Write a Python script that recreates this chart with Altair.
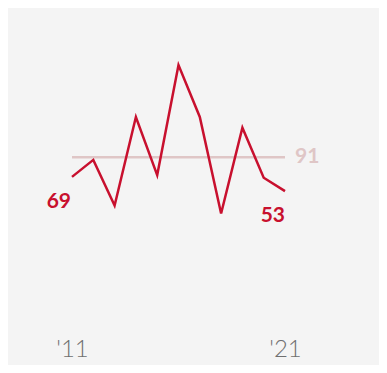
import altair as alt
import pandas as pd

years = [2011, 2012, 2013, 2014, 2015, 2016, 2017, 2018, 2019, 2020, 2021]
values = [69, 88, 37, 136, 71, 194, 136, 28, 124, 68, 53]
reference_value = 91
tick_years = [2011, 2021]

RED = "#c8102e"
PINK = "#dfc6c6"

df = pd.DataFrame({"year": years, "value": values})
ref_df = pd.DataFrame({"start": [years[0]], "end": [years[-1]], "value": [reference_value]})
first_df = pd.DataFrame({"year": [years[0]], "value": [values[0]], "label": [str(values[0])]})
last_df = pd.DataFrame({"year": [years[-1]], "value": [values[-1]], "label": [str(values[-1])]})
ref_lbl = pd.DataFrame({"year": [years[-1]], "value": [reference_value], "label": [str(reference_value)]})

xs = alt.Scale(domain=[years[0], years[-1]], nice=False, zero=False)
ys = alt.Scale(domain=[-100, 250], nice=False, zero=False)

x_axis = alt.Axis(values=tick_years, labelExpr="\"'\" + substring(toString(datum.value), 2)",
                  title=None, domain=False, ticks=False, grid=False,
                  labelFont="Lato", labelFontWeight=300, labelFontSize=24, labelColor="#6f6f6f",
                  labelPadding=9, labelFlush=False)

ref = alt.Chart(ref_df).mark_rule(color=PINK, strokeWidth=2.5).encode(
    x=alt.X("start:Q", scale=xs, axis=x_axis),
    x2="end:Q",
    y=alt.Y("value:Q", scale=ys, axis=None),
)

line = alt.Chart(df).mark_line(color=RED, strokeWidth=2.5, strokeJoin="miter").encode(
    x=alt.X("year:Q", scale=xs),
    y=alt.Y("value:Q", scale=ys),
)

t_first = alt.Chart(first_df).mark_text(color=RED, font="Lato", fontWeight=700, fontSize=21,
                                         align="right", baseline="middle", dx=-1, dy=25).encode(
    x=alt.X("year:Q", scale=xs), y=alt.Y("value:Q", scale=ys), text="label:N")

t_last = alt.Chart(last_df).mark_text(color=RED, font="Lato", fontWeight=700, fontSize=21,
                                       align="right", baseline="middle", dx=0, dy=25).encode(
    x=alt.X("year:Q", scale=xs), y=alt.Y("value:Q", scale=ys), text="label:N")

t_ref = alt.Chart(ref_lbl).mark_text(color=PINK, font="Lato", fontWeight=700, fontSize=21,
                                      align="left", baseline="middle", dx=10, dy=0).encode(
    x=alt.X("year:Q", scale=xs), y=alt.Y("value:Q", scale=ys), text="label:N")

chart = alt.layer(ref, line, t_first, t_last, t_ref).properties(
    width=213, height=313,
    autosize=alt.AutoSizeParams(type="none"),
    padding={"left": 64, "top": 7, "right": 94, "bottom": 37},
    background="#f4f4f4",
).configure_view(stroke=None)

chart.save("out.html", embed_options={"renderer": "svg", "actions": False})
